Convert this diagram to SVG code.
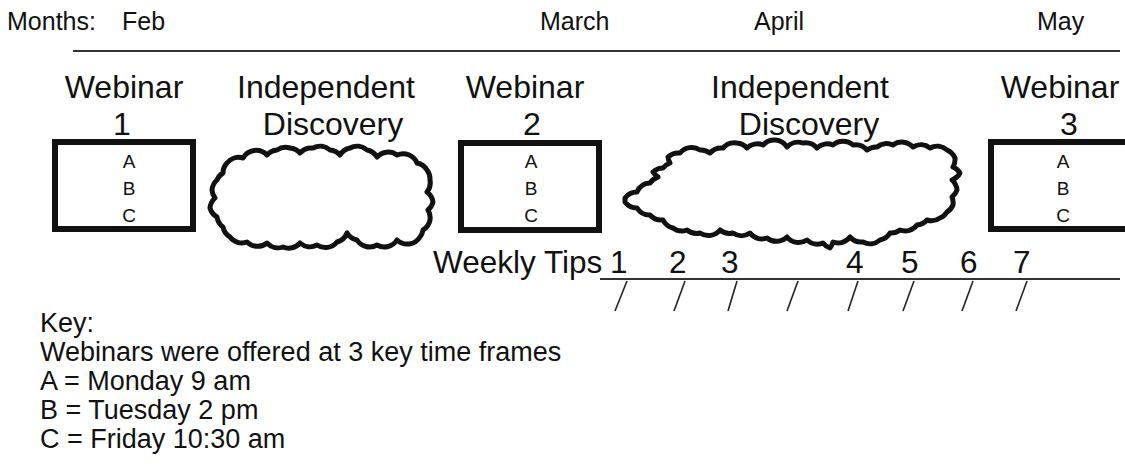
<svg xmlns="http://www.w3.org/2000/svg" width="1125" height="468" viewBox="0 0 1125 468">
<style>
text{font-family:"Liberation Sans",Arial,sans-serif;fill:#111}
.m{font-size:25px}
.big{font-size:32px;text-anchor:middle}
.abc{font-size:19px;text-anchor:middle}
.wt{font-size:31.5px}
.key{font-size:27px}
.box{fill:#fff;stroke:#111;stroke-width:6}
.cloud{fill:#fff;stroke:#111;stroke-width:5;stroke-linejoin:round}
.ln{stroke:#333;stroke-width:2;fill:none}
.tick{stroke:#222;stroke-width:1.6}
</style>
<rect width="1125" height="468" fill="#fff"/>
<g id="months">
<text class="m" x="7" y="30">Months:</text>
<text class="m" x="122" y="30">Feb</text>
<text class="m" x="540" y="30">March</text>
<text class="m" x="754" y="30">April</text>
<text class="m" x="1037" y="30">May</text>
<line class="ln" x1="73" y1="51" x2="1120" y2="51"/>
</g>
<g id="webinar1">
<text class="big" x="124" y="98">Webinar</text>
<text class="big" x="122" y="135">1</text>
<rect class="box" x="55" y="142" width="138" height="87"/>
<text class="abc" x="129" y="168">A</text>
<text class="abc" x="129" y="195">B</text>
<text class="abc" x="129" y="222">C</text>
</g>
<g id="discovery1">
<text class="big" x="326" y="98">Independent</text>
<text class="big" x="333" y="135">Discovery</text>
<path class="cloud" d="M223 173 A15 15 0 0 1 227 163 A15 15 0 0 1 243 158 A15 15 0 0 1 267 155 A15 15 0 0 1 277 150 A15 15 0 0 1 290 148 A15 15 0 0 1 300 153 A15 15 0 0 1 313 148 A15 15 0 0 1 330 150 A15 15 0 0 1 340 155 A15 15 0 0 1 350 148 A15 15 0 0 1 367 150 A15 15 0 0 1 377 157 A15 15 0 0 1 397 155 A15 15 0 0 1 417 163 A15 15 0 0 1 427 170 A15 15 0 0 1 430 180 A15 15 0 0 1 427 192 A15 15 0 0 1 433 202 A15 15 0 0 1 428 210 A15 15 0 0 1 430 220 A15 15 0 0 1 423 230 A15 15 0 0 1 420 237 A15 15 0 0 1 397 240 A15 15 0 0 1 377 245 A15 15 0 0 1 357 240 A15 15 0 0 1 347 233 A15 15 0 0 1 337 242 A15 15 0 0 1 317 245 A15 15 0 0 1 300 243 A15 15 0 0 1 283 247 A15 15 0 0 1 267 243 A15 15 0 0 1 247 242 A15 15 0 0 1 230 237 A15 15 0 0 1 223 227 A15 15 0 0 1 217 217 A15 15 0 0 1 210 208 A15 15 0 0 1 215 198 A15 15 0 0 1 212 190 A15 15 0 0 1 217 180 A15 15 0 0 1 223 173 Z"/>
</g>
<g id="webinar2">
<text class="big" x="525" y="98">Webinar</text>
<text class="big" x="532" y="135">2</text>
<rect class="box" x="461" y="143" width="138" height="87"/>
<text class="abc" x="531" y="168">A</text>
<text class="abc" x="531" y="195">B</text>
<text class="abc" x="531" y="222">C</text>
</g>
<g id="discovery2">
<text class="big" x="800" y="98">Independent</text>
<text class="big" x="809" y="135">Discovery</text>
<path class="cloud" d="M625 198 A15 15 0 0 1 637 192 A15 15 0 0 1 650 183 A15 15 0 0 1 658 177 A15 15 0 0 1 653 172 A15 15 0 0 1 663 168 A15 15 0 0 1 670 163 A15 15 0 0 1 668 157 A15 15 0 0 1 680 153 A15 15 0 0 1 700 150 A15 15 0 0 1 710 153 A15 15 0 0 1 723 148 A15 15 0 0 1 737 143 A15 15 0 0 1 747 148 A15 15 0 0 1 763 145 A15 15 0 0 1 787 147 A15 15 0 0 1 803 143 A15 15 0 0 1 817 148 A15 15 0 0 1 833 145 A15 15 0 0 1 853 145 A15 15 0 0 1 867 150 A15 15 0 0 1 877 147 A15 15 0 0 1 893 145 A15 15 0 0 1 913 147 A15 15 0 0 1 930 148 A15 15 0 0 1 947 150 A15 15 0 0 1 955 158 A15 15 0 0 1 953 167 A15 15 0 0 1 960 173 A15 15 0 0 1 952 180 A15 15 0 0 1 957 190 A15 15 0 0 1 952 197 A15 15 0 0 1 953 205 A15 15 0 0 1 947 212 A15 15 0 0 1 940 218 A15 15 0 0 1 927 220 A15 15 0 0 1 917 225 A15 15 0 0 1 900 230 A15 15 0 0 1 890 233 A15 15 0 0 1 880 240 A15 15 0 0 1 863 242 A15 15 0 0 1 850 237 A15 15 0 0 1 833 242 A15 15 0 0 1 830 248 A15 15 0 0 1 823 243 A15 15 0 0 1 807 240 A15 15 0 0 1 787 237 A15 15 0 0 1 767 238 A15 15 0 0 1 750 233 A15 15 0 0 1 733 233 A15 15 0 0 1 720 230 A15 15 0 0 1 700 233 A15 15 0 0 1 687 230 A15 15 0 0 1 673 228 A15 15 0 0 1 663 220 A15 15 0 0 1 650 215 A15 15 0 0 1 637 208 A15 15 0 0 1 625 202 Z"/>
</g>
<g id="webinar3">
<text class="big" x="1060" y="98">Webinar</text>
<text class="big" x="1069" y="135">3</text>
<rect class="box" x="991" y="142" width="150" height="87"/>
<text class="abc" x="1063" y="168">A</text>
<text class="abc" x="1063" y="195">B</text>
<text class="abc" x="1063" y="222">C</text>
</g>
<g id="weekly-tips">
<text class="wt" x="433" y="273">Weekly Tips</text>
<text class="wt" x="610" y="273">1</text>
<text class="wt" x="669" y="273">2</text>
<text class="wt" x="721" y="273">3</text>
<text class="wt" x="846" y="273">4</text>
<text class="wt" x="901" y="273">5</text>
<text class="wt" x="960" y="273">6</text>
<text class="wt" x="1013" y="273">7</text>
<line class="ln" x1="600" y1="279" x2="1120" y2="279"/>
<g class="tick">
<line x1="627" y1="281" x2="615" y2="311"/>
<line x1="685" y1="281" x2="674" y2="311"/>
<line x1="737" y1="281" x2="728" y2="311"/>
<line x1="798" y1="281" x2="787" y2="311"/>
<line x1="858" y1="281" x2="848" y2="311"/>
<line x1="914" y1="281" x2="903" y2="311"/>
<line x1="973" y1="281" x2="962" y2="311"/>
<line x1="1027" y1="281" x2="1016" y2="311"/>
</g>
</g>
<g id="key">
<text class="key" x="40" y="332">Key:</text>
<text class="key" x="40" y="361">Webinars were offered at 3 key time frames</text>
<text class="key" x="40" y="390">A = Monday 9 am</text>
<text class="key" x="40" y="419">B = Tuesday 2 pm</text>
<text class="key" x="40" y="448">C = Friday 10:30 am</text>
</g>
</svg>
